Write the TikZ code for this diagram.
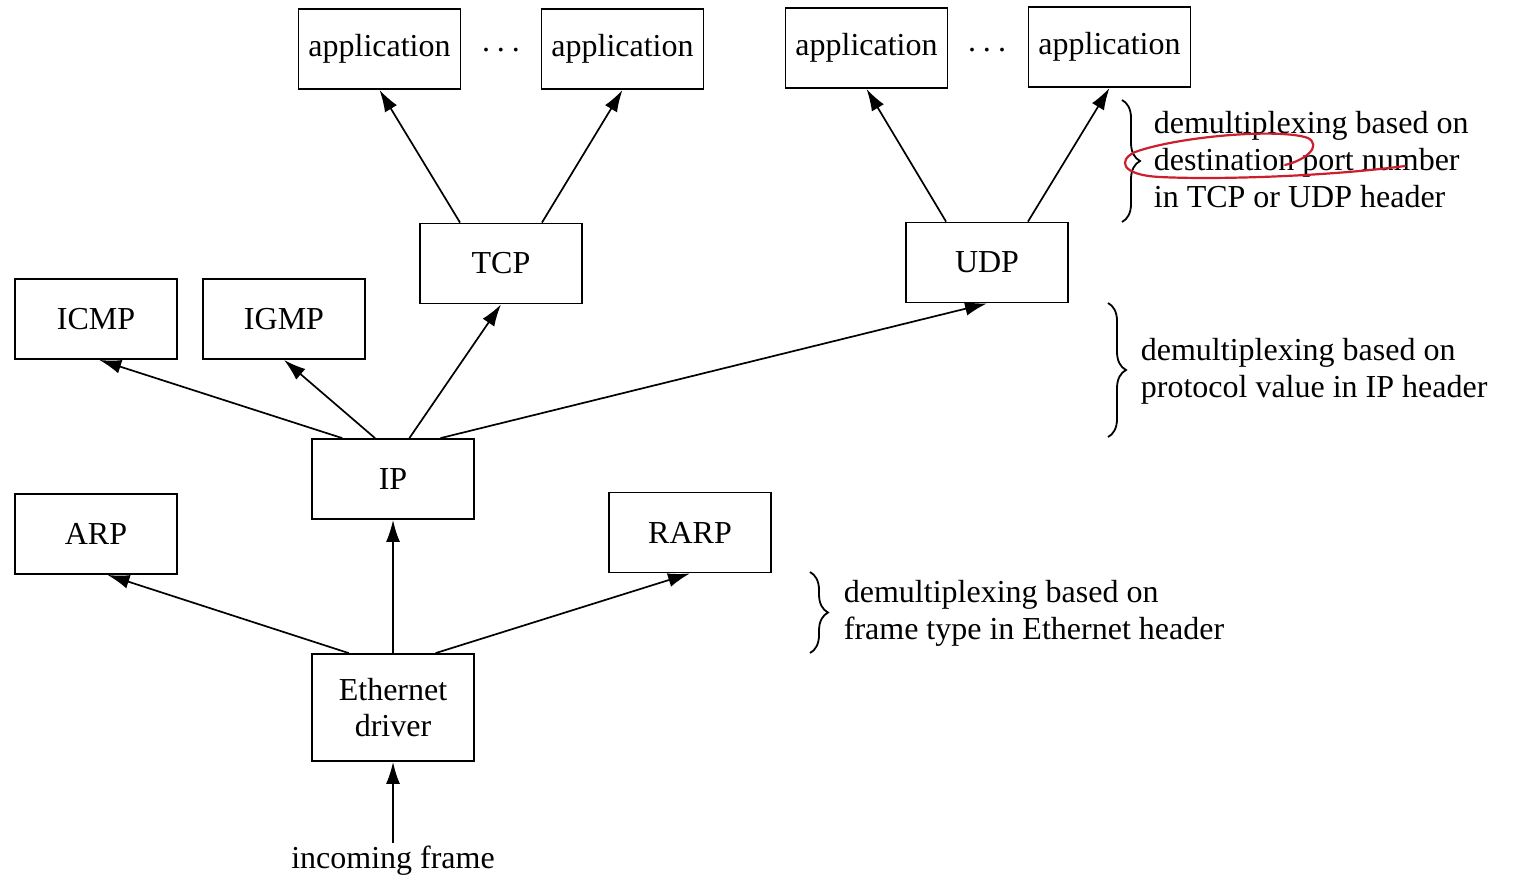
\documentclass[tikz,border=0pt]{standalone}
\usepackage{fontspec}
\setmainfont{Liberation Serif}
\usepackage{tikz}
\usetikzlibrary{calc}
\usetikzlibrary{arrows.meta}
\usetikzlibrary{decorations.pathreplacing}
\tikzset{>={Latex[length=11pt,width=7pt]}}
\tikzstyle{layer} = [rectangle, draw, line width=0.9pt, minimum width=81pt, minimum height=40pt, inner sep=2pt, font=\fontsize{16pt}{18pt}\selectfont]
\tikzstyle{note} = [draw=none, anchor=west, align=left, inner sep=0, font=\fontsize{16pt}{18.5pt}\selectfont]
\tikzstyle{demux} = [decorate, decoration={brace, amplitude=9pt}, line width=0.9pt]
\definecolor{pen}{RGB}{205,30,45}

\begin{document}
\begin{tikzpicture}[x=0.5pt, y=-0.5pt, line width=0.85pt]
\useasboundingbox (0,0) rectangle (1518,879);
% applications
\node [layer] (app1) at (379.5, 49) {application};
\node [layer] (app2) at (622.5, 49) {application};
\node [layer] (app3) at (866.5, 48) {application};
\node [layer] (app4) at (1109.5, 47) {application};
\node [draw = none, font=\fontsize{16pt}{18pt}\selectfont] (dots1) at (501, 50) {.\hspace{3.5pt}.\hspace{3.5pt}.};
\node [draw = none, font=\fontsize{16pt}{18pt}\selectfont] (dots2) at (987, 50) {.\hspace{3.5pt}.\hspace{3.5pt}.};
% transport
\node [layer] (tcp) at (501, 263.5) {TCP};
\node [layer] (udp) at (987, 262.5) {UDP};
% network
\node [layer] (icmp) at (96, 319) {ICMP};
\node [layer] (igmp) at (284, 319) {IGMP};
\node [layer] (ip) at (393, 479) {IP};
\node [layer] (arp) at (96, 534) {ARP};
\node [layer] (rarp) at (690, 532.5) {RARP};
% link
\node [layer, minimum height=53.5pt, align=center] (eth) at (393, 707.5) {Ethernet\\driver};
\node [draw = none, inner sep = 1, font=\fontsize{16pt}{18pt}\selectfont] (frame) at (393, 861) {incoming frame};

\draw [->] ($(tcp.north west)!.25!(tcp.north east)$) -- (app1.south);
\draw [->] ($(tcp.north west)!.75!(tcp.north east)$) -- (app2.south);
\draw [->] ($(udp.north west)!.25!(udp.north east)$) -- (app3.south);
\draw [->] ($(udp.north west)!.75!(udp.north east)$) -- (app4.south);
\draw [->] ($(ip.north west)!.19!(ip.north east)$) -- ($(icmp.south west)!.52!(icmp.south east)$);
\draw [->] ($(ip.north west)!.39!(ip.north east)$) -- (igmp.south);
\draw [->] ($(ip.north west)!.60!(ip.north east)$) -- (tcp.south);
\draw [->] ($(ip.north west)!.79!(ip.north east)$) -- (udp.south);
\draw [->] ($(eth.north west)!.23!(eth.north east)$) -- ($(arp.south west)!.57!(arp.south east)$);
\draw [->] (eth.north) -- (ip.south);
\draw [->] ($(eth.north west)!.76!(eth.north east)$) -- (rarp.south);
\draw [->] (frame.north) -- (eth.south);

% braces and notes
\draw [demux] (1122, 100) -- (1122, 222);
\node [note] (port) at (1153, 160) {demultiplexing based on\\destination port number\\in TCP or UDP header};
\draw [demux] (1108, 303) -- (1108, 437);
\node [note] (proto) at (1140, 371) {demultiplexing based on\\protocol value in IP header};
\draw [demux] (810, 572) -- (810, 653);
\node [note] (ftype) at (843, 613) {demultiplexing based on\\frame type in Ethernet header};

% hand-drawn mark
\draw [pen, line width=1.1pt, line cap=round] (1405, 166) .. controls (1330, 176) and (1220, 180) .. (1160, 177)
  .. controls (1120, 175) and (1118, 160) .. (1135, 152)
  .. controls (1180, 136) and (1280, 128) .. (1308, 138)
  .. controls (1322, 146) and (1306, 160) .. (1285, 165);
\end{tikzpicture}
\end{document}
